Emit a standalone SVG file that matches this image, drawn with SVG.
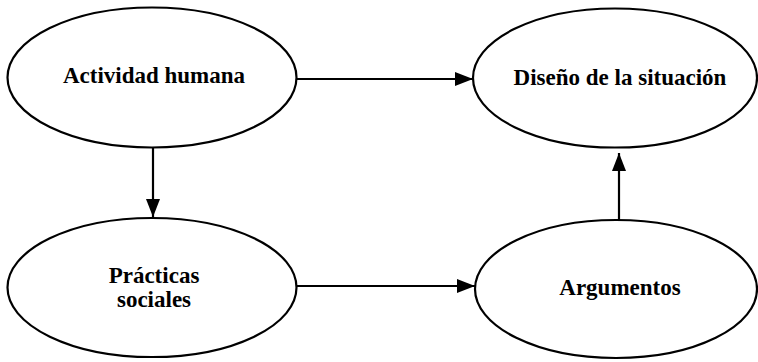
<svg xmlns="http://www.w3.org/2000/svg" width="758" height="362" viewBox="0 0 758 362">
<defs>
<marker id="ah" markerWidth="18" markerHeight="14" refX="18" refY="7" orient="auto" markerUnits="userSpaceOnUse">
<path d="M0,0 L18,7 L0,14 Z" fill="#000"/>
</marker>
<style>
.node ellipse{fill:#fff;stroke:#000;stroke-width:2.2}
.node text{font-weight:bold;font-size:23px;fill:#000;text-anchor:middle}
.edge{stroke:#000;stroke-width:2.2;fill:none;marker-end:url(#ah)}
</style>
</defs>
<rect width="758" height="362" fill="#fff"/>
<g id="n-actividad" class="node" font-family="'Liberation Serif', 'DejaVu Serif', serif">
<ellipse cx="152" cy="77.5" rx="144.5" ry="70"/>
<text x="154" y="83">Actividad humana</text>
</g>
<g id="n-diseno" class="node" font-family="'Liberation Serif', 'DejaVu Serif', serif">
<ellipse cx="615" cy="78" rx="142" ry="69.5"/>
<text x="620" y="85">Diseño de la situación</text>
</g>
<g id="n-practicas" class="node" font-family="'Liberation Serif', 'DejaVu Serif', serif">
<ellipse cx="152" cy="287.5" rx="144.5" ry="69.5"/>
<text x="154" y="283">Prácticas</text>
<text x="154" y="307">sociales</text>
</g>
<g id="n-argumentos" class="node" font-family="'Liberation Serif', 'DejaVu Serif', serif">
<ellipse cx="616" cy="289" rx="141" ry="69"/>
<text x="620" y="295">Argumentos</text>
</g>
<g id="connectors">
<line class="edge" x1="297" y1="79" x2="473" y2="79"/>
<line class="edge" x1="153" y1="147" x2="153" y2="217"/>
<line class="edge" x1="297" y1="286" x2="475" y2="286"/>
<line class="edge" x1="619" y1="220" x2="619" y2="153"/>
</g>
</svg>
